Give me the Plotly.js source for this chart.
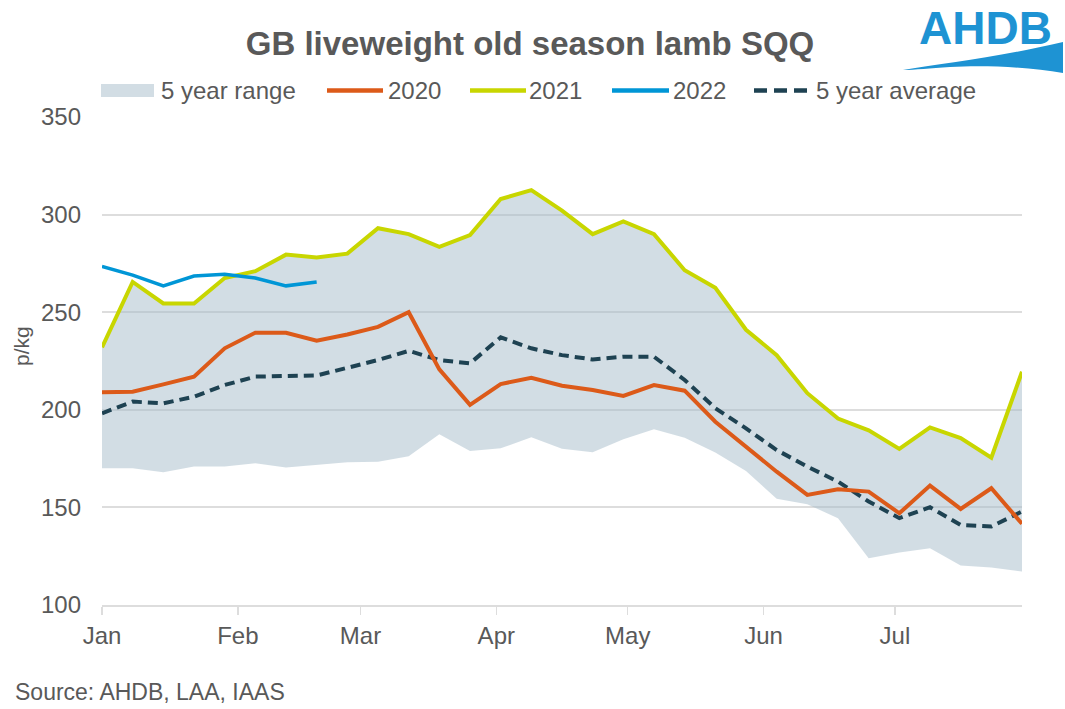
<!DOCTYPE html>
<html>
<head>
<meta charset="utf-8">
<script src="https://cdn.plot.ly/plotly-3.0.1.min.js"></script>
<style>
  html, body { margin: 0; padding: 0; background: #ffffff; }
  #chart { width: 1065px; height: 709px; }
</style>
</head>
<body>
<div id="chart"></div>
<script>
// ---- Data ----
const weeks = ['2022-01-01','2022-01-08','2022-01-15','2022-01-22','2022-01-29','2022-02-05','2022-02-12','2022-02-19','2022-02-26','2022-03-05','2022-03-12','2022-03-19','2022-03-26','2022-04-02','2022-04-09','2022-04-16','2022-04-23','2022-04-30','2022-05-07','2022-05-14','2022-05-21','2022-05-28','2022-06-04','2022-06-11','2022-06-18','2022-06-25','2022-07-02','2022-07-09','2022-07-16','2022-07-23','2022-07-30'];

const rangeMin = [170.1, 170.1, 168, 170.9, 170.9, 172.6, 170.4, 171.8, 173.1, 173.4, 176.2, 187.5, 178.9, 180.3, 185.9, 180.1, 178.2, 184.9, 190, 185.7, 178.1, 168.7, 154.4, 151.6, 144.5, 124, 126.9, 129.1, 120.2, 119.2, 117.1];
const rangeMax = [232, 265.5, 254.5, 254.5, 267.5, 271, 279.5, 278, 280, 293, 290, 283.5, 289.5, 308, 312.5, 302, 290, 296.5, 290, 271.5, 262.5, 241, 228, 208.5, 195.5, 189.5, 180, 191, 185.5, 175.5, 219.5];
const y2020 = [209, 209.3, 213, 217, 231.5, 239.5, 239.5, 235.4, 238.6, 242.5, 250, 220.7, 202.5, 213.2, 216.4, 212.3, 210.1, 207.1, 212.7, 209.8, 193.9, 181.1, 168.3, 156.4, 159.3, 158.1, 147, 161.2, 149.2, 159.8, 141.6];
const y2021 = [232, 265.5, 254.5, 254.5, 267.5, 271, 279.5, 278, 280, 293, 290, 283.5, 289.5, 308, 312.5, 302, 290, 296.5, 290, 271.5, 262.5, 241, 228, 208.5, 195.5, 189.5, 180, 191, 185.5, 175.5, 219.5];
const y2022 = [273.5, 269, 263.5, 268.5, 269.5, 267.5, 263.5, 265.5];
const avg5 = [198.2, 204.2, 203.3, 206.7, 212.7, 217, 217.3, 217.6, 221.5, 225.5, 230.2, 225.5, 223.8, 237.1, 231.5, 228, 225.8, 227.2, 227.2, 215.3, 200.8, 190.5, 179.4, 170.9, 163.2, 153, 144.5, 150.1, 141, 140.2, 147.9];

const seriesNames = ['5 year range', '2020', '2021', '2022', '5 year average'];
const yTicks = [100, 150, 200, 250, 300, 350];

// ---- Styling ----
const C = {
  range: '#D2DDE4', rangeFill: 'rgba(165,187,201,0.5)',
  s2020: '#DC5A19', s2021: '#C8D600', s2022: '#0096D6', avg: '#1E4252',
  text: '#595959', grid: '#DDDDDD', logo: '#1E93D3'
};
const FONT = 'Liberation Sans, Arial, sans-serif';

// plot area in pixels
const L = 102, R = 43, T = 117, B = 104, W = 1065, H = 709;
const PW = W - L - R, PH = H - T - B;
const px = x => (x - L) / PW;
const py = y => (H - B - y) / PH;

const traces = [
  { x: weeks, y: rangeMin, type: 'scatter', mode: 'lines', line: { width: 0, color: C.range }, hoverinfo: 'skip', showlegend: false },
  { x: weeks, y: rangeMax, type: 'scatter', mode: 'lines', fill: 'tonexty', fillcolor: C.rangeFill, line: { width: 0, color: C.range }, name: seriesNames[0], showlegend: false },
  { x: weeks, y: avg5, type: 'scatter', mode: 'lines', line: { color: C.avg, width: 4, dash: '10px,6px' }, name: seriesNames[4], showlegend: false },
  { x: weeks, y: y2020, type: 'scatter', mode: 'lines', line: { color: C.s2020, width: 4 }, name: seriesNames[1], showlegend: false },
  { x: weeks, y: y2021, type: 'scatter', mode: 'lines', line: { color: C.s2021, width: 4 }, name: seriesNames[2], showlegend: false },
  { x: weeks.slice(0, y2022.length), y: y2022, type: 'scatter', mode: 'lines', line: { color: C.s2022, width: 3.5 }, name: seriesNames[3], showlegend: false }
];

// manual legend
const legY = 90.5;
const shapes = [
  { type: 'rect', xref: 'paper', yref: 'paper', x0: px(101), x1: px(154), y0: py(84), y1: py(97), fillcolor: C.range, line: { width: 0 } },
  { type: 'line', xref: 'paper', yref: 'paper', x0: px(327), x1: px(383), y0: py(legY), y1: py(legY), line: { color: C.s2020, width: 4.5 } },
  { type: 'line', xref: 'paper', yref: 'paper', x0: px(470), x1: px(526), y0: py(legY), y1: py(legY), line: { color: C.s2021, width: 4.5 } },
  { type: 'line', xref: 'paper', yref: 'paper', x0: px(612), x1: px(669), y0: py(legY), y1: py(legY), line: { color: C.s2022, width: 4.5 } },
  { type: 'line', xref: 'paper', yref: 'paper', x0: px(754), x1: px(809), y0: py(legY), y1: py(legY), line: { color: C.avg, width: 4.5, dash: '13px,7px' } },
  // AHDB logo wave
  { type: 'path', xref: 'paper', yref: 'paper', fillcolor: C.logo, line: { width: 0 },
    path: 'M ' + px(903) + ',' + py(70) +
          ' C ' + px(945) + ',' + py(63) + ' ' + px(1000) + ',' + py(57) + ' ' + px(1063) + ',' + py(42) +
          ' L ' + px(1063) + ',' + py(73) +
          ' C ' + px(1030) + ',' + py(67) + ' ' + px(985) + ',' + py(65) + ' ' + px(950) + ',' + py(67) +
          ' C ' + px(930) + ',' + py(68) + ' ' + px(915) + ',' + py(70) + ' ' + px(903) + ',' + py(70) + ' Z' }
];

const legText = [
  { t: seriesNames[0], x: 159 },
  { t: seriesNames[1], x: 386 },
  { t: seriesNames[2], x: 527 },
  { t: seriesNames[3], x: 671 },
  { t: seriesNames[4], x: 814 }
];
const annotations = legText.map(d => ({
  text: d.t, xref: 'paper', yref: 'paper', x: px(d.x), y: py(legY), xanchor: 'left', yanchor: 'middle',
  showarrow: false, font: { family: FONT, size: 24, color: C.text }
}));
annotations.push(
  { text: 'p/kg', xref: 'paper', yref: 'paper', x: px(21), y: py(346), textangle: -90, xanchor: 'center', yanchor: 'middle',
    showarrow: false, font: { family: FONT, size: 21, color: C.text } },
  { text: 'Source: AHDB, LAA, IAAS', xref: 'paper', yref: 'paper', x: px(13), y: py(692), xanchor: 'left', yanchor: 'middle',
    showarrow: false, font: { family: FONT, size: 23, color: C.text } },
  { text: '<b>AHDB</b>', xref: 'paper', yref: 'paper', x: px(985), y: py(0), xanchor: 'center', yanchor: 'top',
    showarrow: false, font: { family: FONT, size: 46, color: C.logo } }
);

const layout = {
  width: W, height: H,
  margin: { l: L, r: R, t: T, b: B, pad: 0 },
  paper_bgcolor: '#ffffff', plot_bgcolor: '#ffffff',
  font: { family: FONT, color: C.text },
  showlegend: false,
  title: { text: '<b>GB liveweight old season lamb SQQ</b>', x: 530 / W, xanchor: 'center', y: 1 - 43 / H, yanchor: 'middle',
    font: { family: FONT, size: 33, color: C.text } },
  xaxis: {
    type: 'date', range: ['2022-01-01', '2022-07-30'],
    tick0: '2022-01-01', dtick: 'M1', tickformat: '%b',
    showgrid: false, zeroline: false,
    showline: true, linecolor: C.grid, linewidth: 2,
    ticks: 'outside', ticklen: 8, tickwidth: 1.5, tickcolor: C.grid,
    ticklabelstandoff: 0,
    tickfont: { family: FONT, size: 24, color: C.text }
  },
  yaxis: {
    range: [100, 350], tickvals: yTicks, ticktext: yTicks.map(String),
    showgrid: true, gridcolor: C.grid, gridwidth: 2, zeroline: false, showline: false,
    ticks: '', ticklabelstandoff: 20,
    tickfont: { family: FONT, size: 24, color: C.text }
  },
  shapes: shapes,
  annotations: annotations,
  hovermode: false
};

Plotly.newPlot('chart', traces, layout, { staticPlot: true, displayModeBar: false });
</script>
</body>
</html>
